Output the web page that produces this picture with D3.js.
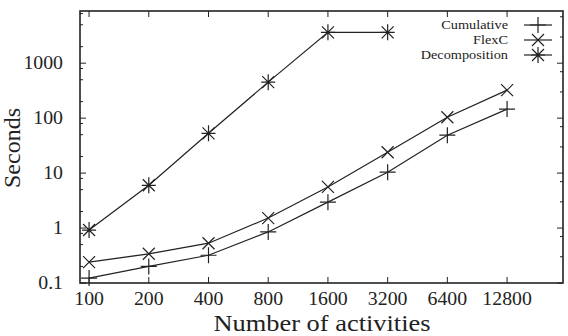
<!DOCTYPE html>
<html>
 <head>
  <meta charset="utf-8">
  <script src="https://d3js.org/d3.v7.min.js"></script>
  <style>
   body { margin: 0; background: #fff; }
   text { font-family: "Liberation Serif", "Times New Roman", serif; fill: #222; }
  </style>
 </head>
 <body>
  <div id="chart"></div>
  <script type="text/javascript">
   // data
   var activities = [100, 200, 400, 800, 1600, 3200, 6400, 12800];
   var cumulative = [0.123, 0.20, 0.32, 0.85, 2.96, 10.4, 49, 146];
   var flexc = [0.24, 0.34, 0.53, 1.52, 5.6, 24, 104, 323];
   var decomposition = [0.92, 6.0, 53, 452, 3650, 3650];
   var yTickLabels = ["0.1", "1", "10", "100", "1000"];
   var seriesNames = ["Cumulative", "FlexC", "Decomposition"];

   var W = 568, H = 336;
   var pLeft = 80, pRight = 563, pTop = 11, pBottom = 283;
   var stretch = 1.1; // the original's lettering is a bit wide

   var svg = d3.select("#chart").append("svg")
     .attr("width", W).attr("height", H);

   var x = d3.scaleLog().base(2).domain([90, 24500]).range([pLeft, pRight]);
   var y = d3.scaleLog().domain([0.1, Math.pow(10, 3.95)]).range([pBottom, pTop]);

   var ink = "#222";

   function label(g, tx, ty, str, size, anchor) {
     return g.append("text")
       .attr("transform", "translate(" + tx + "," + ty + ") scale(" + stretch + ",1)")
       .attr("text-anchor", anchor).style("font-size", size + "px")
       .text(str);
   }

   // frame
   svg.append("rect")
     .attr("x", pLeft).attr("y", pTop)
     .attr("width", pRight - pLeft).attr("height", pBottom - pTop)
     .attr("fill", "none").attr("stroke", ink).attr("stroke-width", 1.6);

   // x ticks, bottom and top (inward)
   var xt = svg.append("g");
   activities.forEach(function (a) {
     xt.append("line").attr("x1", x(a)).attr("x2", x(a))
       .attr("y1", pBottom).attr("y2", pBottom - 6).attr("stroke", ink);
     xt.append("line").attr("x1", x(a)).attr("x2", x(a))
       .attr("y1", pTop).attr("y2", pTop + 6).attr("stroke", ink);
     label(xt, x(a), 305, a, 18, "middle");
   });

   // y ticks, major + minor, both sides
   var yt = svg.append("g");
   yTickLabels.forEach(function (lab) {
     var v = +lab;
     [[pLeft, 1], [pRight, -1]].forEach(function (s) {
       yt.append("line").attr("x1", s[0]).attr("x2", s[0] + s[1] * 6)
         .attr("y1", y(v)).attr("y2", y(v)).attr("stroke", ink);
     });
     label(yt, 63, y(v) + 6, lab, 18, "end");
     [[pLeft, 1, [2, 5, 8]], [pRight, -1, [3, 7]]].forEach(function (s) {
       s[2].forEach(function (m) {
         var mv = v * m;
         if (y(mv) < pTop + 2) return;
         yt.append("line").attr("x1", s[0]).attr("x2", s[0] + s[1] * 3)
           .attr("y1", y(mv)).attr("y2", y(mv)).attr("stroke", ink);
       });
     });
   });

   // axis titles
   label(svg, 322, 331, "Number of activities", 24, "middle");
   svg.append("text")
     .attr("transform", "translate(20,148) rotate(-90)")
     .attr("text-anchor", "middle").style("font-size", "24px")
     .text("Seconds");

   // point symbols
   function plus(g, cx, cy) {
     g.append("path").attr("d", "M" + (cx - 8) + "," + cy + "h16M" + cx + "," + (cy - 8) + "v16")
       .attr("stroke", ink).attr("stroke-width", 1.2).attr("fill", "none");
   }
   function cross(g, cx, cy) {
     var r = 6;
     g.append("path").attr("d", "M" + (cx - r) + "," + (cy - r) + "l" + 2 * r + "," + 2 * r +
       "M" + (cx - r) + "," + (cy + r) + "l" + 2 * r + "," + (-2 * r))
       .attr("stroke", ink).attr("stroke-width", 1.2).attr("fill", "none");
   }
   function star(g, cx, cy) {
     var r = 6;
     g.append("path").attr("d", "M" + (cx - 7) + "," + cy + "h14M" + cx + "," + (cy - 8) + "v16" +
       "M" + (cx - r) + "," + (cy - r) + "l" + 2 * r + "," + 2 * r +
       "M" + (cx - r) + "," + (cy + r) + "l" + 2 * r + "," + (-2 * r))
       .attr("stroke", ink).attr("stroke-width", 1.2).attr("fill", "none");
   }

   var line = d3.line()
     .x(function (d) { return x(d[0]); })
     .y(function (d) { return y(d[1]); });

   var series = [
     { name: seriesNames[0], values: cumulative, sym: plus },
     { name: seriesNames[1], values: flexc, sym: cross },
     { name: seriesNames[2], values: decomposition, sym: star }
   ];

   series.forEach(function (s, i) {
     var pts = s.values.map(function (v, j) { return [activities[j], v]; });
     var g = svg.append("g");
     g.append("path").datum(pts).attr("d", line)
       .attr("fill", "none").attr("stroke", ink).attr("stroke-width", 1.2);
     pts.forEach(function (p) { s.sym(g, x(p[0]), y(p[1])); });

     // legend
     var ly = 25 + i * 15;
     label(svg, 508, ly + 4, s.name, 13, "end");
     g.append("line").attr("x1", 524).attr("x2", 552)
       .attr("y1", ly).attr("y2", ly).attr("stroke", ink).attr("stroke-width", 1.2);
     s.sym(g, 538, ly);
   });
  </script>
 </body>
</html>
